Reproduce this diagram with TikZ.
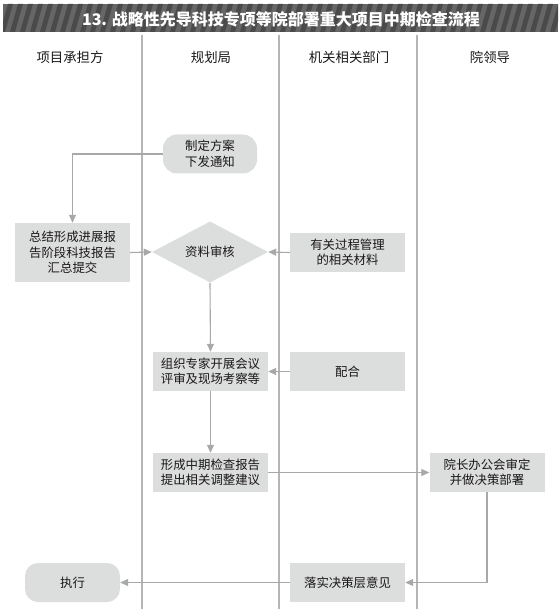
\documentclass[tikz,border=0pt]{standalone}
\usepackage{fontspec}
\setmainfont{Noto Sans CJK SC}
\usetikzlibrary{arrows.meta,shapes.geometric}
\definecolor{boxgray}{HTML}{DCDDDD}
\definecolor{linegray}{HTML}{A8A8A8}
\definecolor{lanegray}{HTML}{B5B5B5}
\definecolor{txt}{HTML}{1A1718}
\definecolor{bardark}{HTML}{4A4A4A}
\definecolor{barlight}{HTML}{666666}
\tikzset{
  base/.style={fill=boxgray, text=txt, font=\fontsize{12.4pt}{15.5pt}\selectfont, align=center, inner sep=0pt},
  box/.style={base, minimum width=115pt, minimum height=39pt},
  tallbox/.style={base, minimum width=115pt, minimum height=59pt},
  roundbox/.style={base, rounded corners=13pt, minimum height=39pt},
  decision/.style={base, diamond, minimum width=116pt, minimum height=58pt},
  header/.style={text=txt, font=\fontsize{13.4pt}{15pt}\selectfont, inner sep=0pt},
  lane/.style={draw=lanegray, line width=1.2pt},
  flow/.style={draw=linegray, line width=1.1pt, -{Triangle[length=8pt,width=7pt]}, color=linegray}
}
\begin{document}
\begin{tikzpicture}[x=1pt, y=-1pt]
\useasboundingbox (0,0) rectangle (558,609);
% title bar
\fill[barlight] (3,4) rectangle (558,32);
\begin{scope}
\clip (3,4) rectangle (558,32);
\foreach \i in {-2,...,58} {
  \fill[bardark] ({\i*10},32) -- ({\i*10+5},32) -- ({\i*10+13},4) -- ({\i*10+8},4) -- cycle;
}
\end{scope}
\node[text=white, font=\fontsize{16pt}{18pt}\selectfont\bfseries, inner sep=0pt] (title) at (281,19.5) {13. 战略性先导科技专项等院部署重大项目中期检查流程};
% lanes
\coordinate (l1t) at (142,35); \coordinate (l1b) at (142,609);
\coordinate (l2t) at (279,35); \coordinate (l2b) at (279,609);
\coordinate (l3t) at (417,35); \coordinate (l3b) at (417,609);
\draw[lane] (l1t) -- (l1b);
\draw[lane] (l2t) -- (l2b);
\draw[lane] (l3t) -- (l3b);
% headers
\node[header] (h1) at (70,57) {项目承担方};
\node[header] (h2) at (211,57) {规划局};
\node[header] (h3) at (349,57) {机关相关部门};
\node[header] (h4) at (490,57) {院领导};
% nodes
\node[roundbox, minimum width=94pt, rounded corners=14pt] (plan) at (210,154) {制定方案\\下发通知};
\node[tallbox] (summ) at (72.5,252.5) {总结形成进展报\\告阶段科技报告\\汇总提交};
\node[decision] (rev) at (210,252) {资料审核};
\node[box] (mat) at (347.5,252.5) {有关过程管理\\的相关材料};
\node[box] (org) at (210.5,371.5) {组织专家开展会议\\评审及现场考察等};
\node[box] (coop) at (347.5,371.5) {配合};
\node[box] (form) at (210.5,472.5) {形成中期检查报告\\提出相关调整建议};
\node[box] (lead) at (487,472.5) {院长办公会审定\\并做决策部署};
\node[box] (fall) at (347.5,582.5) {落实决策层意见};
\node[roundbox, minimum width=95pt] (exec) at (72.5,582.5) {执行};
% connectors
\draw[flow] (plan.west) -| (summ.north);
\draw[flow] (summ.east) -- (rev.west);
\draw[flow] (mat.west) -- (rev.east);
\draw[flow] (rev.south) -- (org.north);
\draw[flow] (coop.west) -- (org.east);
\draw[flow] (org.south) -- (form.north);
\draw[flow] (form.east) -- (lead.west);
\draw[flow] (lead.south) |- (fall.east);
\draw[flow] (fall.west) -- (exec.east);
\end{tikzpicture}
\end{document}
